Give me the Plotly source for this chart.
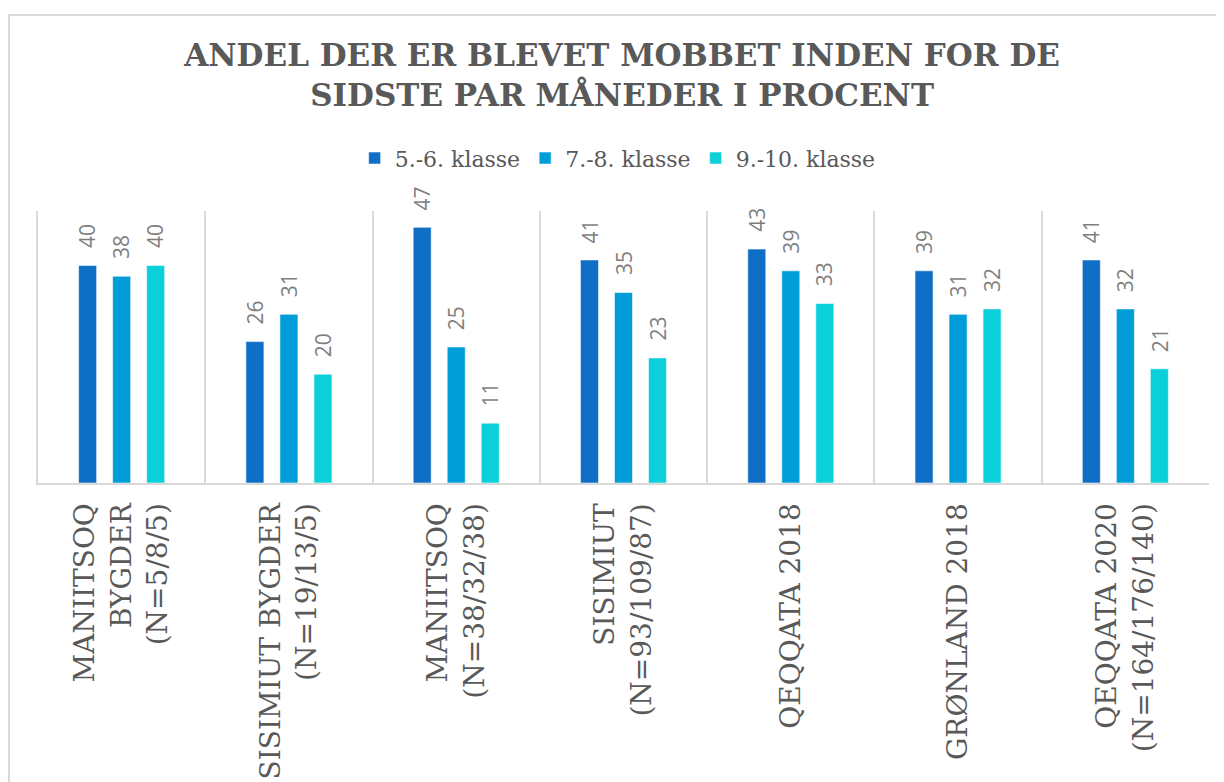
import plotly.graph_objects as go

categories = [
    "MANIITSOQ<br>BYGDER<br>(N=5/8/5)",
    "SISIMIUT BYGDER<br>(N=19/13/5)",
    "MANIITSOQ<br>(N=38/32/38)",
    "SISIMIUT<br>(N=93/109/87)",
    "QEQQATA 2018",
    "GRØNLAND 2018",
    "QEQQATA 2020<br>(N=164/176/140)",
]
series_names = ["5.-6. klasse", "7.-8. klasse", "9.-10. klasse"]
klasse_5_6 = [40, 26, 47, 41, 43, 39, 41]
klasse_7_8 = [38, 31, 25, 35, 39, 31, 32]
klasse_9_10 = [40, 20, 11, 23, 33, 32, 21]
series_values = [klasse_5_6, klasse_7_8, klasse_9_10]
colors = ["#0F6FC6", "#009DD9", "#0BD0D9"]

title_text = "ANDEL DER ER BLEVET MOBBET INDEN FOR DE<br>SIDSTE PAR MÅNEDER I PROCENT"

BARGAP = 0.39
fig = go.Figure()
for name, vals, col in zip(series_names, series_values, colors):
    fig.add_trace(go.Bar(
        name=name, x=categories, y=vals,
        marker=dict(color=col, line=dict(color="rgba(255,255,255,0.55)", width=1)),
    ))

# data labels, placed over each bar via the category axis
slot = (1 - BARGAP) / len(series_values)
for si, vals in enumerate(series_values):
    off = (si - (len(series_values) - 1) / 2) * slot
    for ci, v in enumerate(vals):
        fig.add_annotation(
            x=ci + off, y=v, xref="x", yref="y", text=str(v),
            textangle=-90, showarrow=False, yanchor="bottom", xanchor="center",
            yshift=15, font=dict(family="Open Sans", size=21, color="#7F7F7F"),
        )

# outer chart border
fig.add_shape(type="rect", xref="paper", yref="paper",
              x0=-0.0248, x1=1.0094, y0=-1.2, y1=1.721,
              line=dict(color="#D9D9D9", width=2), fillcolor="rgba(0,0,0,0)", layer="below")

fig.update_layout(
    width=1216, height=774,
    margin=dict(l=30, r=15, t=203, b=299, autoexpand=False),
    paper_bgcolor="white", plot_bgcolor="white",
    barmode="group", bargap=BARGAP, bargroupgap=0.47,
    title=dict(text=title_text, x=0.505, xanchor="center", y=0.925, yanchor="middle",
               font=dict(family="DejaVu Serif", size=31, color="#595959", weight="bold")),
    legend=dict(orientation="h", x=0.495, xanchor="center", y=1.194, yanchor="middle",
                font=dict(family="DejaVu Serif", size=22, color="#595959"),
                itemwidth=30, tracegroupgap=0),
    showlegend=True,
)
fig.update_xaxes(
    type="category", tickson="boundaries", showgrid=True, gridcolor="#D9D9D9", gridwidth=2,
    showline=True, linecolor="#D9D9D9", linewidth=2, ticks="", automargin=False,
    tickangle=-90, ticklabelstandoff=7,
    tickfont=dict(family="DejaVu Serif", size=28, color="#595959"),
    range=[-0.5, len(categories) - 0.5],
)
fig.update_yaxes(range=[0, 50], showgrid=False, showticklabels=False, zeroline=False,
                 automargin=False,
                 showline=True, linecolor="#D9D9D9", linewidth=2)

fig.write_html("out.html")
